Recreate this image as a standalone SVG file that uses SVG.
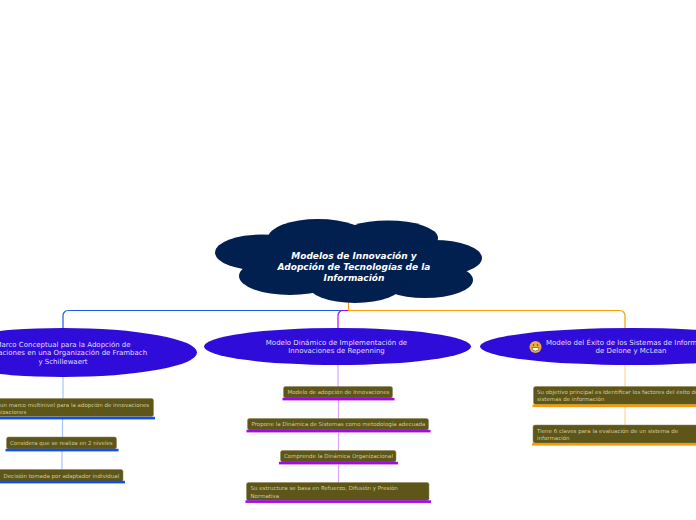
<svg xmlns="http://www.w3.org/2000/svg" width="696" height="520" viewBox="0 0 696 520">
<style>
text{font-family:"DejaVu Sans",Verdana,sans-serif}
.cloud{fill:#011f4f}
.title{font-size:9px;font-weight:bold;font-style:italic;fill:#fff;text-anchor:middle}
.main{fill:#300cdb}
.mt{font-size:7px;fill:#e0dcfa;text-anchor:middle}
.box{fill:#5e5518;stroke:#8a8458;stroke-width:.5}
.bt{font-size:5.5px;fill:#cfcb9e}
.c{fill:none;stroke-width:1.2}
.blue{stroke:#1a5cf0}.pur{stroke:#a80cf2}.org{stroke:#f99d05}
.pb{stroke:#a9c4fb}.pp{stroke:#dca6fb}.po{stroke:#fcd7a0}
.ub{fill:#0f4ff0}.up{fill:#a406ef}.uo{fill:#f99a02}
</style>
<g id="connectors">
<path class="c blue" d="M348 310.500H68a5 5 0 0 0-5 5V330"/>
<path class="c org" d="M348.500 302V310.500H620a5 5 0 0 1 5 5V330"/>
<path class="c pur" d="M348 310.500H343a5 5 0 0 0-5 5V330"/>
<path class="c pb" d="M63 376V399M62.500 418V437M62 451V470"/>
<path class="c pp" d="M338 364V387M338.500 400V419M338.500 433V451M338.500 465V483"/>
<path class="c po" d="M625 364V387M625 407V426"/>
</g>
<g id="root">
<ellipse class="cloud" cx="262" cy="252.500" rx="47" ry="18"/>
<ellipse class="cloud" cx="318" cy="238" rx="50" ry="19"/>
<ellipse class="cloud" cx="388" cy="238" rx="50" ry="17.500"/>
<ellipse class="cloud" cx="434" cy="258" rx="48" ry="18"/>
<ellipse class="cloud" cx="425" cy="280" rx="48" ry="18"/>
<ellipse class="cloud" cx="355" cy="284" rx="48" ry="19"/>
<ellipse class="cloud" cx="290" cy="276" rx="51" ry="19"/>
<ellipse class="cloud" cx="350" cy="260" rx="90" ry="25"/>
<text class="title" x="354" y="259">Modelos de Innovación y</text>
<text class="title" x="354" y="270">Adopción de Tecnologías de la</text>
<text class="title" x="354" y="281">Información</text>
</g>
<g id="branch1">
<ellipse class="main" cx="63" cy="352.500" rx="134" ry="24.500"/>
<text class="mt" x="63" y="347">Marco Conceptual para la Adopción de</text>
<text class="mt" x="63" y="355">Innovaciones en una Organización de Frambach</text>
<text class="mt" x="63" y="364">y Schillewaert</text>
</g>
<g id="branch2">
<ellipse class="main" cx="337.500" cy="346.500" rx="133.500" ry="18.500"/>
<text class="mt" x="336.500" y="345">Modelo Dinámico de Implementación de</text>
<text class="mt" x="336.500" y="353">Innovaciones de Repenning</text>
</g>
<g id="branch3">
<ellipse class="main" cx="632" cy="346.500" rx="152" ry="18.500"/>
<circle cx="535.500" cy="347" r="6" fill="#e9ad3a"/>
<path d="M532 347.500h7a3.500 3.500 0 0 1-7 0z" fill="#fff" stroke="#5a4208" stroke-width=".6"/>
<circle cx="533.500" cy="345" r=".8" fill="#5a4208"/><circle cx="537.500" cy="345" r=".8" fill="#5a4208"/>
<text class="mt" x="631" y="345">Modelo del Éxito de los Sistemas de Información</text>
<text class="mt" x="631" y="353">de Delone y McLean</text>
</g>
<g id="n1">
<rect class="box" x="-20" y="398.500" width="173.500" height="18" rx="2"/><rect class="ub" x="-20" y="416.800" width="175" height="2.600"/>
<text class="bt" x="0" y="406.500">un marco multinivel para la adopción de innovaciones</text>
<text class="bt" x="-15" y="413.500">organizaciones</text>
</g>
<g id="n2">
<rect class="box" x="6.500" y="437" width="110" height="12" rx="2"/><rect class="ub" x="5.500" y="448.800" width="113" height="2.600"/>
<text class="bt" x="10" y="445">Considera que se realiza en 2 niveles</text>
</g>
<g id="n3">
<rect class="box" x="-2" y="469.500" width="125" height="12" rx="2"/><rect class="ub" x="-2" y="480.800" width="127" height="2.600"/>
<text class="bt" x="3.500" y="477.500">Decisión tomada por adaptador individual</text>
</g>
<g id="n4">
<rect class="box" x="283.500" y="386.500" width="109" height="11.500" rx="2"/><rect class="up" x="282.500" y="397.800" width="112" height="2.600"/>
<text class="bt" x="287.500" y="394">Modelo de adopción de Innovaciones</text>
</g>
<g id="n5">
<rect class="box" x="247.500" y="418.500" width="181" height="11.500" rx="2"/><rect class="up" x="246.500" y="429.800" width="184" height="2.600"/>
<text class="bt" x="251.500" y="426">Propone la Dinámica de Sistemas como metodología adecuada</text>
</g>
<g id="n6">
<rect class="box" x="280.500" y="450.500" width="115.500" height="11.500" rx="2"/><rect class="up" x="279" y="461.800" width="119" height="2.600"/>
<text class="bt" x="284" y="458">Comprende la Dinámica Organizacional</text>
</g>
<g id="n7">
<rect class="box" x="246.500" y="482.500" width="182.500" height="18" rx="2"/><rect class="up" x="245.500" y="500.300" width="185.500" height="2.600"/>
<text class="bt" x="250.500" y="490">Su estructura se basa en Refuerzo, Difusión y Presión</text>
<text class="bt" x="250.500" y="497.500">Normativa</text>
</g>
<g id="n8">
<rect class="box" x="533.500" y="386.500" width="180" height="18" rx="2"/><rect class="uo" x="532.500" y="404.500" width="180" height="2.600"/>
<text class="bt" x="537" y="394">Su objetivo principal es Identificar los factores del éxito de los</text>
<text class="bt" x="537" y="401">sistemas de información</text>
</g>
<g id="n9">
<rect class="box" x="533" y="425" width="180" height="18" rx="2"/><rect class="uo" x="532" y="443" width="180" height="2.600"/>
<text class="bt" x="537" y="432.500">Tiene 6 claves para la evaluación de un sistema de</text>
<text class="bt" x="537" y="439.500">información</text>
</g>
</svg>
